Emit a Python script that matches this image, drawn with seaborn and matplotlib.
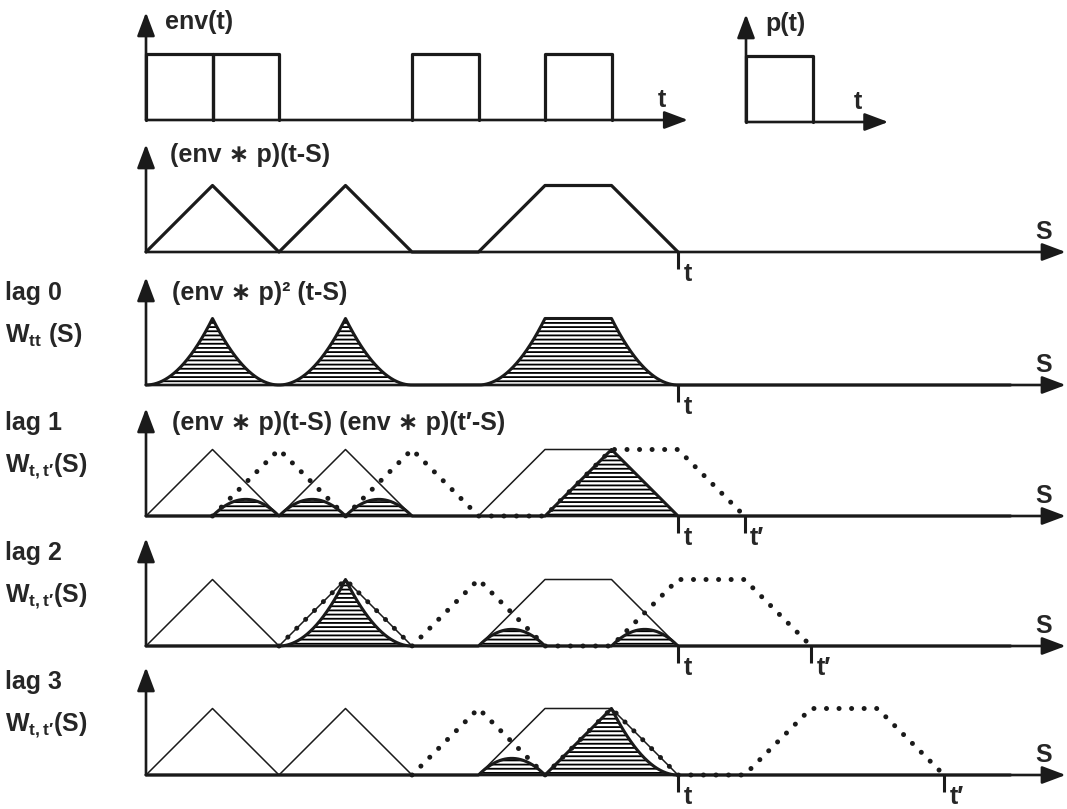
import numpy as np
import matplotlib
matplotlib.use("Agg")
import matplotlib.pyplot as plt
import seaborn as sns

# values (time / lag in pulse-width units)
env_starts = [0, 1, 4, 6]
env_ends = [1, 2, 5, 7]
p_starts = [0]
p_ends = [1]

# (env*p)(t-S) as a function of S: corner points
conv_s = [0, 1, 2, 3, 4, 5, 6, 7, 8]
conv_v = [0, 1, 0, 1, 0, 0, 1, 1, 0]

t_now = 8
lag_labels = ["lag 1", "lag 2", "lag 3"]
lag_shifts = [1, 2, 4]          # t' - t for each lag row

sns.set_theme(style="white")
plt.rcParams["font.family"] = ["Liberation Sans", "DejaVu Sans"]
plt.rcParams["font.weight"] = "bold"
plt.rcParams["mathtext.fontset"] = "custom"
plt.rcParams["mathtext.rm"] = "Liberation Sans:bold"
plt.rcParams["mathtext.it"] = "Liberation Sans:bold"
plt.rcParams["mathtext.bf"] = "Liberation Sans:bold"
plt.rcParams["mathtext.default"] = "rm"
plt.rcParams["hatch.linewidth"] = 1.3
plt.rcParams["hatch.color"] = "black"

W, H = 1067, 809
UNIT = 66.5      # pixels per unit, both directions
FS = 18

fig = plt.figure(figsize=(W / 100, H / 100), dpi=100)


def make_axes(left_px, base_px, width_units):
    ax = fig.add_axes([left_px / W, (H - base_px) / H,
                       width_units * UNIT / W, UNIT / H])
    ax.set_xlim(0, width_units)
    ax.set_ylim(0, 1)
    ax.set_axis_off()
    return ax


def axis_arrows(ax, x_end, y_end=1.62):
    style = dict(arrowstyle="-|>,head_length=0.8,head_width=0.3", color="k",
                 lw=1.9, mutation_scale=18, shrinkA=0, shrinkB=0)
    ax.annotate("", xy=(0, y_end), xytext=(0, 0), arrowprops=style, annotation_clip=False)
    ax.annotate("", xy=(x_end, 0), xytext=(0, 0), arrowprops=style, annotation_clip=False)


def line(ax, x, y, lw, dotted=False):
    kw = dict(color="k", lw=lw, estimator=None, sort=False, clip_on=False, ax=ax)
    if dotted:
        kw.update(linestyle=(0, (0.01, 2.5)), dash_capstyle="round")
    sns.lineplot(x=list(x), y=list(y), **kw)


def tick(ax, x, label):
    ax.plot([x, x], [0, -0.25], color="k", lw=2.2, clip_on=False,
            solid_capstyle="butt")
    ax.text(x + 0.08, -0.33, label, fontsize=FS, ha="left", va="center")


def hatched(ax, s, y):
    ax.fill_between(s, 0, y, facecolor="white", edgecolor="black", hatch="----",
                    linewidth=0, clip_on=False)
    line(ax, s, y, 2.2)


S_END = 13.83
s_grid = np.linspace(0, 13, 2601)
solid = np.interp(s_grid, conv_s, conv_v, left=0, right=0)

# row 1: env(t) and p(t)
ax = make_axes(146, 120, 8.15)
for a, b in zip(env_starts, env_ends):
    line(ax, [a, a, b, b], [0, 1, 1, 0], 2.3)
axis_arrows(ax, 8.15)
ax.text(0.29, 1.47, "env(t)", fontsize=FS, va="center")
ax.text(7.76, 0.12, "t", fontsize=FS, ha="center", va="bottom")

ax = make_axes(746, 122, 2.14)
for a, b in zip(p_starts, p_ends):
    line(ax, [a, a, b, b], [0, 1, 1, 0], 2.3)
axis_arrows(ax, 2.14)
ax.text(0.29, 1.47, "p(t)", fontsize=FS, va="center")
ax.text(1.68, 0.12, "t", fontsize=FS, ha="center", va="bottom")

# row 2: (env*p)(t-S)
ax = make_axes(146, 252, S_END)
line(ax, conv_s, conv_v, 2.3)
axis_arrows(ax, S_END)
tick(ax, t_now, "t")
ax.text(0.36, 1.46, "(env ∗ p)(t-S)", fontsize=FS, va="center")
ax.text(13.5, 0.12, "S", fontsize=FS, ha="center", va="bottom")

# row 3: lag 0
ax = make_axes(146, 385, S_END)
hatched(ax, s_grid, solid * solid)
axis_arrows(ax, S_END)
tick(ax, t_now, "t")
ax.text(0.39, 1.38, "(env ∗ p)² (t-S)", fontsize=FS, va="center")
ax.text(-2.12, 1.38, "lag 0", fontsize=FS, va="center")
ax.text(-2.12, 0.75, r"W$_{\mathrm{tt}}$ (S)", fontsize=FS, va="center")
ax.text(13.5, 0.12, "S", fontsize=FS, ha="center", va="bottom")

# rows 4-6: lag 1, 2, 3
bases = [516, 646, 775]
for k, (lab, sh) in enumerate(zip(lag_labels, lag_shifts)):
    ax = make_axes(146, bases[k], S_END)
    shifted_s = np.array(conv_s) + sh
    other = np.interp(s_grid, shifted_s, conv_v, left=0, right=0)
    hatched(ax, s_grid, solid * other)
    line(ax, conv_s, conv_v, 1.1)
    line(ax, shifted_s, conv_v, 3.6, dotted=True)
    axis_arrows(ax, S_END)
    tick(ax, t_now, "t")
    tick(ax, t_now + sh, "t′")
    ax.text(-2.12, 1.40, lab, fontsize=FS, va="center")
    ax.text(-2.12, 0.74, r"W$_{\mathrm{t,t′}}$(S)", fontsize=FS, va="center")
    ax.text(13.5, 0.12, "S", fontsize=FS, ha="center", va="bottom")
    if k == 0:
        ax.text(0.39, 1.40, "(env ∗ p)(t-S) (env ∗ p)(t′-S)", fontsize=FS, va="center")

fig.savefig("out.png", dpi=100, facecolor="white")
